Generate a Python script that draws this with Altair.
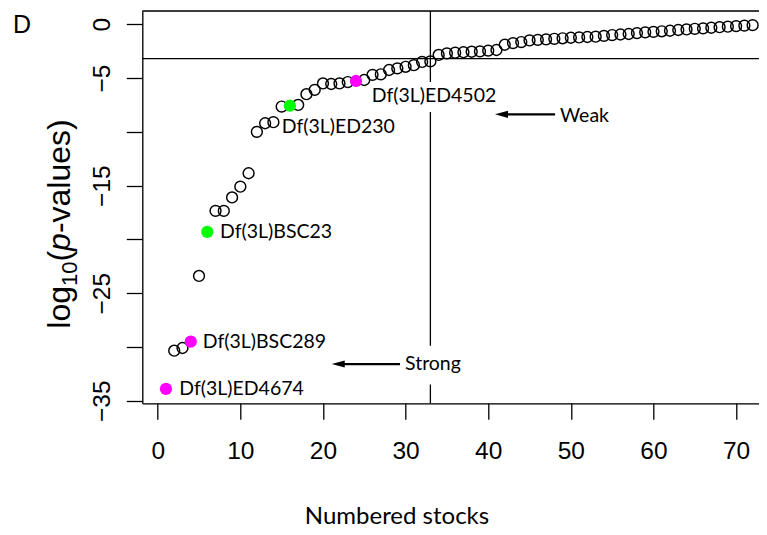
import altair as alt
import pandas as pd

# ---------------- data ----------------
stock = list(range(1, 73))
log10_p = [
    -33.9, -30.35, -30.1, -29.5, -23.4, -19.3, -17.35, -17.35, -16.1, -15.1,
    -13.85, -10.0, -9.2, -9.1, -7.65, -7.57, -7.5, -6.5, -6.1, -5.5,
    -5.55, -5.5, -5.37, -5.27, -5.18, -4.7, -4.65, -4.25, -4.1, -3.95,
    -3.8, -3.5, -3.45, -2.85, -2.7, -2.64, -2.6, -2.55, -2.52, -2.45,
    -2.39, -1.9, -1.75, -1.65, -1.5, -1.45, -1.4, -1.35, -1.3, -1.25,
    -1.22, -1.18, -1.15, -1.08, -1.0, -0.95, -0.9, -0.82, -0.75, -0.7,
    -0.65, -0.6, -0.53, -0.48, -0.42, -0.38, -0.32, -0.27, -0.22, -0.17,
    -0.12, -0.08,
]
hl_stock = [1, 4, 6, 16, 24]
hl_color = ["#FF00FF", "#FF00FF", "#00FF00", "#00FF00", "#FF00FF"]

lab_text = ["Df(3L)ED4674", "Df(3L)BSC289", "Df(3L)BSC23", "Df(3L)ED230",
            "Df(3L)ED4502", "Weak", "Strong"]
lab_x = [2.61, 5.45, 7.54, 15.0, 25.9, 48.69, 29.93]
lab_y = [-33.9, -29.5, -19.3, -9.58, -6.67, -8.53, -31.6]

arrow_tip = [40.82, 21.06]
arrow_tail = [48.09, 29.32]
arrow_y = [-8.37, -31.59]

box_x = [25.45, 29.3]
box_x2 = [40.2, 36.8]
box_y = [-5.37, -29.9]
box_y2 = [-8.16, -33.5]

vline_x = [33]
hline_y = [-3.2]

x_ticks = [0, 10, 20, 30, 40, 50, 60, 70]
y_ticks = [0, -5, -10, -15, -20, -25, -30, -35]

# ---------------- tables ----------------
color_of = dict(zip(hl_stock, hl_color))
df_open = pd.DataFrame({"stock": [s for s in stock if s not in color_of],
                        "lp": [v for s, v in zip(stock, log10_p) if s not in color_of]})
df_fill = pd.DataFrame({"stock": hl_stock,
                        "lp": [log10_p[s - 1] for s in hl_stock],
                        "col": hl_color})
df_lab = pd.DataFrame({"t": lab_text, "x": lab_x, "y": lab_y})
df_arrow = pd.DataFrame({"tip": arrow_tip, "tail": arrow_tail, "y": arrow_y})
df_box = pd.DataFrame({"x": box_x, "x2": box_x2, "y": box_y, "y2": box_y2})
df_v = pd.DataFrame({"x": vline_x})
df_h = pd.DataFrame({"y": hline_y})

# ---------------- layout ----------------
W, H = 616.7, 392.3
xs = alt.Scale(domain=[-1.864, 72.77], nice=False, zero=False)
ys = alt.Scale(domain=[-35.24, 1.237], nice=False, zero=False)
LW = 1.3

x_axis = alt.Axis(values=x_ticks, title=None, grid=False, tickSize=16, tickWidth=LW,
                  tickColor="black", domainColor="black", domainWidth=LW,
                  labelFont="Liberation Sans", labelFontSize=24.5, labelColor="black",
                  labelPadding=20, labelFlush=False, labelOverlap=False, format="d")
y_axis = alt.Axis(values=y_ticks, title=None, grid=False, tickSize=16, tickWidth=LW,
                  tickColor="black", domainColor="black", domainWidth=LW,
                  labelFont="Liberation Sans", labelFontSize=24.5, labelColor="black",
                  labelAngle=270, labelAlign="center", labelBaseline="alphabetic",
                  labelPadding=16.5, labelFlush=False, labelOverlap=False, format="d",
                  labelExpr="(datum.value % 10 == 0 && datum.value != 0) ? '' : datum.label")

open_pts = alt.Chart(df_open).mark_point(filled=False, size=118, strokeWidth=1.45,
                                         color="black", opacity=1).encode(
    x=alt.X("stock:Q", scale=xs, axis=x_axis),
    y=alt.Y("lp:Q", scale=ys, axis=y_axis),
)
fill_pts = alt.Chart(df_fill).mark_circle(size=150, opacity=1).encode(
    x=alt.X("stock:Q", scale=xs),
    y=alt.Y("lp:Q", scale=ys),
    color=alt.Color("col:N", scale=None),
)
vrule = alt.Chart(df_v).mark_rule(color="black", strokeWidth=LW).encode(
    x=alt.X("x:Q", scale=xs))
hrule = alt.Chart(df_h).mark_rule(color="black", strokeWidth=LW).encode(
    y=alt.Y("y:Q", scale=ys))
top_frame = alt.Chart(df_h).mark_rule(color="black", strokeWidth=LW).encode(
    y=alt.value(0), x=alt.value(0), x2=alt.value(W))
boxes = alt.Chart(df_box).mark_rect(color="white", opacity=1).encode(
    x=alt.X("x:Q", scale=xs), x2="x2:Q",
    y=alt.Y("y:Q", scale=ys), y2="y2:Q")
shafts = alt.Chart(df_arrow).transform_calculate(start="datum.tip + 1.0").mark_rule(
    color="black", strokeWidth=2.2).encode(
    x=alt.X("start:Q", scale=xs), x2="tail:Q", y=alt.Y("y:Q", scale=ys))
heads = alt.Chart(df_arrow).mark_point(shape="M0,0L2,-0.55L2,0.55Z", filled=True,
                                       size=169, color="black", opacity=1).encode(
    x=alt.X("tip:Q", scale=xs), y=alt.Y("y:Q", scale=ys))
labels = alt.Chart(df_lab).mark_text(align="left", baseline="middle", font="Lato",
                                     fontSize=19.5, color="black").encode(
    x=alt.X("x:Q", scale=xs), y=alt.Y("y:Q", scale=ys), text="t:N")

# y-axis title composed of pieces: log_10(p-values)
F, S = 32, 22
bx = 70 - 142.3
y0 = 213 + (5.779 * F + 1.112 * S) / 2
pieces = [
    ("log", bx, y0, F, "normal"),
    ("10", bx + 0.23 * F, y0 - 1.334 * F, S, "normal"),
    ("(", bx, y0 - 1.334 * F - 1.112 * S, F, "normal"),
    ("p", bx, y0 - 1.667 * F - 1.112 * S, F, "italic"),
    ("-values)", bx, y0 - 2.223 * F - 1.112 * S, F, "normal"),
]
title_layers = []
for txt, px, py, fs, st in pieces:
    title_layers.append(
        alt.Chart(df_h).mark_text(angle=270, align="left", baseline="alphabetic",
                                  font="Liberation Sans", fontSize=fs, fontStyle=st,
                                  color="black").encode(
            x=alt.value(px), y=alt.value(py), text=alt.value(txt)))

panel = alt.Chart(df_h).mark_text(align="left", baseline="alphabetic",
                                  font="Liberation Sans", fontSize=25,
                                  color="black").encode(
    x=alt.value(13 - 142.3), y=alt.value(22), text=alt.value("D"))
xtitle = alt.Chart(df_h).mark_text(align="center", baseline="alphabetic", font="Lato",
                                   fontSize=24, color="black").encode(
    x=alt.value(254.7), y=alt.value(513), text=alt.value("Numbered stocks"))

chart = alt.layer(
    vrule, hrule, top_frame, boxes, shafts, heads, open_pts, fill_pts, labels,
    panel, xtitle, *title_layers
).properties(
    width=W, height=H,
    padding={"left": 134.3, "top": 3, "right": 0, "bottom": 128},
    autosize=alt.AutoSizeParams(type="none"),
).configure_view(stroke="transparent").configure(background="white")

chart.save("out.html", embed_options={"renderer": "svg", "actions": False})
